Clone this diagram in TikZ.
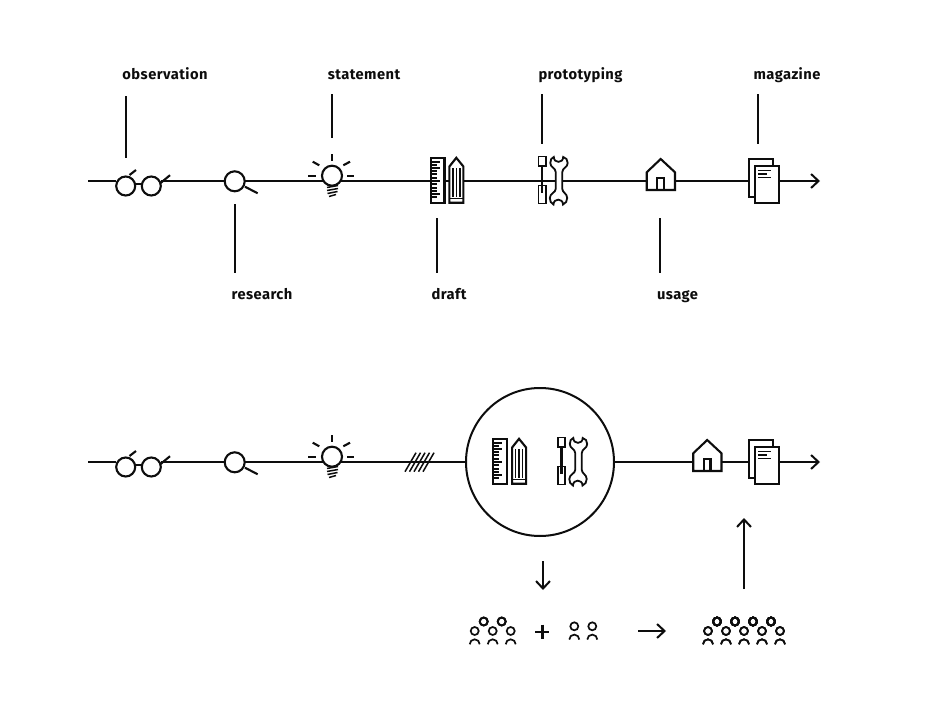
\documentclass[tikz,border=0pt]{standalone}
\usepackage{fontspec}
\setmainfont[LetterSpace=3]{Fira Sans}
\usetikzlibrary{arrows.meta}
\colorlet{inkcol}{black!95}
\tikzset{
  ink/.style={line width=2.1pt, inkcol},
  icon/.style={ink, fill=white},
  thin ink/.style={line width=1.5pt, inkcol},
  head/.style={line width=1.7pt, inkcol},
  lead/.style={line width=2pt, inkcol},
  axis/.style={line width=2pt, inkcol, -{Straight Barb[length=7.5pt, width=14pt, line width=2pt]}},
  word/.style={font=\bfseries\fontsize{14.7}{16}\selectfont, inkcol, inner sep=0pt, anchor=base},
}
\def\glasses{
  \fill[white] (116,176) rectangle (161,196);
  \draw[ink] (129.5,175) -- (136,170);
  \draw[ink] (160,183.5) -- (170,175.2);
  \draw[ink] (135,184) -- (142,184);
  \draw[icon] (125.7,186) circle (9.5);
  \draw[icon] (151.3,186) circle (9.5);
}
\def\lens{
  \draw[ink] (245,186.7) -- (257.7,193.3);
  \draw[icon] (234.7,181.3) circle (10);
}
\def\bulb{
  \draw[ink] (308.3,175.7) -- (316,175.7);
  \draw[ink] (347,175.7) -- (354,175.7);
  \draw[ink] (332,154) -- (332,160.7);
  \draw[ink] (312.7,161.7) -- (319.3,165.3);
  \draw[ink] (343.3,165.3) -- (350,161.7);
  \draw[icon] (332,175.7) circle (10);
  \draw[thin ink] (327,187.5) -- (338,185.5);
  \draw[thin ink] (327,190.5) -- (338,188.5);
  \draw[thin ink] (327.5,193.5) -- (337.5,191.5);
  \draw[thin ink] (329,196.5) -- (336,194.5);
}
\def\draft{
  \draw[icon] (430.7,158.4) rectangle (444.5,202.7);
  \foreach \y/\l in {162/9,165/6,168/9,171/6,174/6,
                     178/6,181/9,184/6,188/6,191/6,194/9,197/6}
    \draw[thin ink] (430.7,\y) -- ++(\l,0);
  \draw[icon] (449.4,202.7) -- (449.4,166.5) -- (456.3,157.8) -- (463.4,166.5) -- (463.4,202.7) -- cycle;
  \draw[thin ink] (449.4,198.5) -- (463.4,198.5);
  \foreach \x in {452.9,456.4,459.9}
    \draw[thin ink] (\x,168) -- (\x,197);
}
\def\tools{
  \draw[icon, line width=1.8pt] (538.4,156.5) rectangle (545.6,166);
  \draw[icon, line width=1.8pt] (538.4,185.5) rectangle (545.6,203.5);
  \draw[ink] (542,166) -- (542,193);
  \draw[icon, line width=1.8pt] (553.8,157) .. controls (553.8,163.5) and (563.2,163.5) .. (563.2,157)
    .. controls (566,157.5) and (567.7,160) .. (567.7,163)
    .. controls (567.7,167.5) and (562.3,168) .. (562.3,172) -- (562.3,189)
    .. controls (562.3,192.5) and (567.2,193.5) .. (567.2,198)
    .. controls (567.2,201) and (565.8,203.5) .. (563,204.5)
    .. controls (563,198) and (553.5,198) .. (553.5,204.5)
    .. controls (551,203.5) and (549.8,201) .. (549.8,198)
    .. controls (549.8,193.5) and (555.7,192.5) .. (555.7,189) -- (555.7,172)
    .. controls (555.7,168) and (550.3,167.5) .. (550.3,163)
    .. controls (550.3,160) and (551.5,157.5) .. (553.8,157) -- cycle;
}
\def\house{
  \draw[icon] (646.7,190) -- (646.7,172.3) -- (660.7,159) -- (675,172.3) -- (675,190) -- cycle;
  \draw[ink] (657.3,190) -- (657.3,178.3) -- (664,178.3) -- (664,190);
}
\def\papers{
  \draw[icon] (749,159) rectangle (772.7,196.7);
  \draw[icon] (754.7,165.7) rectangle (778.7,203.3);
  \draw[thin ink] (758.3,170.7) -- (770.7,170.7);
  \draw[thin ink] (758.3,174) -- (767,174);
  \draw[thin ink] (758.3,177.7) -- (770.7,177.7);
}
% one head and shoulders
\def\person#1#2{
  \draw[head] (#1,#2) circle (4);
  \draw[head] (#1-5,#2+13.3) arc[start angle=180, end angle=360, radius=5];
}
\begin{document}
\begin{tikzpicture}[x=1pt, y=-1pt]
  \useasboundingbox (0,0) rectangle (945,701);
  \fill[white] (0,0) rectangle (945,701);

  \coordinate (lineastart) at (88,181);
  \coordinate (lineaend) at (820,181);
  \draw[axis] (lineastart) -- (lineaend);

  \glasses
  \lens
  \bulb
  \draft
  \tools
  \house
  \papers

  \node[word] (observation) at (165,80) {observation};
  \node[word] (statement) at (364,80) {statement};
  \node[word] (prototyping) at (580.5,80) {prototyping};
  \node[word] (magazine) at (787,80) {magazine};
  \node[word] (research) at (262,299) {research};
  \node[word] (draft) at (449,299) {draft};
  \node[word] (usage) at (677.5,299) {usage};

  \draw[lead] (126,96) coordinate (obstop) -- (126,158) coordinate (obsend);
  \draw[lead] (332,94) coordinate (statop) -- (332,138) coordinate (staend);
  \draw[lead] (542,94) coordinate (protop) -- (542,144) coordinate (proend);
  \draw[lead] (758,94) coordinate (magtop) -- (758,144) coordinate (magend);
  \draw[lead] (235,204) coordinate (resend) -- (235,273) coordinate (resbot);
  \draw[lead] (437,218) coordinate (draend) -- (437,273) coordinate (drabot);
  \draw[lead] (660,218) coordinate (usaend) -- (660,273) coordinate (usabot);

  \node[circle, draw=inkcol, line width=2pt, minimum size=148pt, inner sep=0pt] (hub) at (540,462) {};
  \coordinate (linebstart) at (88,462);
  \coordinate (linebend) at (820,462);
  \draw[ink] (linebstart) -- (hub.west);
  \draw[axis] (hub.east) -- (linebend);

  \begin{scope}[shift={(0,281)}]
    \glasses
    \lens
    \bulb
    \papers
  \end{scope}
  \begin{scope}[shift={(62.7,281)}]
    \draft
  \end{scope}
  \begin{scope}[shift={(19.5,281)}]
    \tools
  \end{scope}
  \begin{scope}[shift={(46.5,281)}]
    \house
  \end{scope}

  \foreach \x in {0,4.5,9,13.5,18}
    \draw[thin ink] (405+\x,471.7) -- (416+\x,452.7);

  \draw[axis] (543,561) -- (543,590);
  \draw[axis] (744,589) -- (744,518);
  \draw[axis] (638,631) -- (666,631);
  \draw[line width=2.4pt, inkcol] (535.3,631.7) -- (549.3,631.7);
  \draw[line width=2.4pt, inkcol] (542.3,624.7) -- (542.3,638.7);

  \foreach \x in {474.7,492.7,510.7}
    \person{\x}{631}
  \foreach \x in {483.7,501.7}
    \draw[head] (\x,621.5) circle (4);
  \foreach \x in {574.3,592.3}
    \person{\x}{626.3}
  \foreach \x in {708,726,744,762,780}
    \person{\x}{631}
  \foreach \x in {717,735,753,771}
    \draw[head] (\x,621.5) circle (4);
\end{tikzpicture}
\end{document}
